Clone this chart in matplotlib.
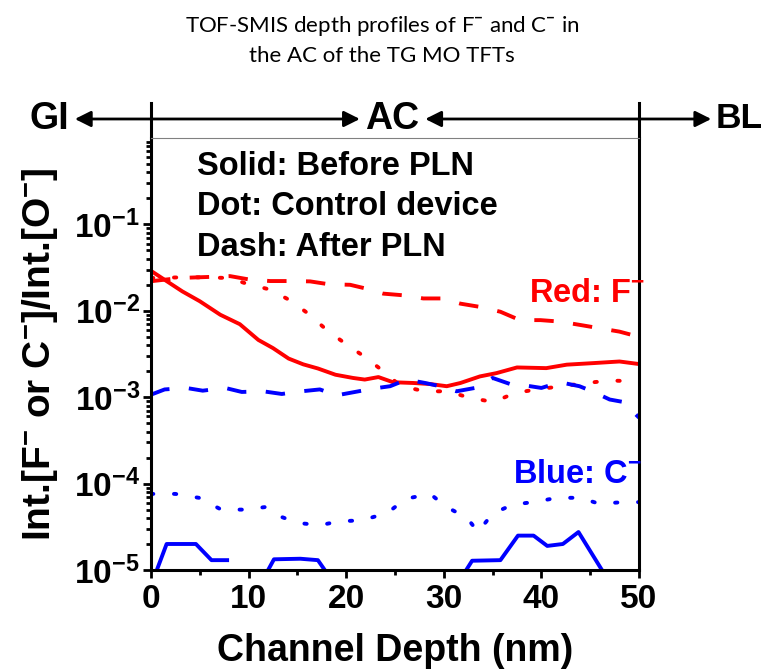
import numpy as np
import matplotlib
matplotlib.use("Agg")
import matplotlib.pyplot as plt
from matplotlib.ticker import FixedLocator, LogLocator, MultipleLocator, FuncFormatter, NullFormatter

plt.rcParams['font.family'] = ['Liberation Sans', 'DejaVu Sans']
plt.rcParams['font.weight'] = 'bold'
plt.rcParams['mathtext.fontset'] = 'custom'
plt.rcParams['mathtext.rm'] = 'Liberation Sans:bold'
plt.rcParams['mathtext.bf'] = 'Liberation Sans:bold'
plt.rcParams['mathtext.it'] = 'Liberation Sans:bold'
plt.rcParams['mathtext.sf'] = 'Lato'
plt.rcParams['mathtext.default'] = 'bf'

RED = '#FF0000'
BLUE = '#0000FF'

# F- / O- ratio, before PLN (solid)
f_before_x = [0, 3.2, 5.0, 7.1, 9.1, 11.0, 12.5, 14.1, 15.6, 17.1, 18.9, 20.7, 21.9, 23.3,
              24.8, 26.9, 28.6, 30.3, 31.7, 33.7, 35.4, 37.5, 40.5, 42.6, 45.3, 48.0, 50.0]
f_before_y = [2.9e-2, 1.68e-2, 1.29e-2, 9.0e-3, 7.0e-3, 4.6e-3, 3.7e-3, 2.8e-3, 2.4e-3,
              2.15e-3, 1.82e-3, 1.67e-3, 1.60e-3, 1.71e-3, 1.49e-3, 1.46e-3, 1.42e-3,
              1.34e-3, 1.46e-3, 1.74e-3, 1.90e-3, 2.21e-3, 2.17e-3, 2.38e-3, 2.48e-3,
              2.59e-3, 2.42e-3]

# F- / O- ratio, after PLN (dash)
f_after_x = [0, 3.0, 5.7, 8.1, 10.0, 12.2, 14.1, 16.3, 18.2, 20.4, 22.1, 23.8, 25.9, 27.9,
             29.9, 31.7, 33.7, 35.8, 37.8, 39.9, 41.9, 44.0, 46.0, 48.0, 50.0]
f_after_y = [2.2e-2, 2.4e-2, 2.46e-2, 2.52e-2, 2.31e-2, 2.21e-2, 2.21e-2, 2.19e-2, 2.03e-2,
             2.0e-2, 1.8e-2, 1.58e-2, 1.51e-2, 1.39e-2, 1.39e-2, 1.21e-2, 1.11e-2, 9.75e-3,
             7.8e-3, 7.8e-3, 7.5e-3, 6.85e-3, 6.27e-3, 5.74e-3, 5.0e-3]

# F- / O- ratio, control device (dot)
f_ctrl_x = [0, 4.0, 8.0, 9.8, 12.2, 14.2, 16.1, 18.0, 20.0, 22.0, 23.6, 25.6, 28.1, 30.4,
            32.7, 35.1, 37.3, 39.7, 42.1, 44.6, 47.0, 49.4, 50.0]
f_ctrl_y = [2.4e-2, 2.45e-2, 2.4e-2, 2.06e-2, 1.76e-2, 1.33e-2, 9.3e-3, 6.0e-3, 4.1e-3,
            2.88e-3, 2.08e-3, 1.34e-3, 1.17e-3, 1.17e-3, 9.8e-4, 8.8e-4, 1.12e-3, 1.24e-3,
            1.34e-3, 1.46e-3, 1.56e-3, 1.53e-3, 1.5e-3]

# C- / O- ratio, before PLN (solid); nan = below detection
c_before_x = [0.6, 1.6, 4.6, 6.2, 7.8, 10.0, 12.0, 12.6, 15.3, 17.1, 17.8, 25.0, 32.3, 32.9,
              35.8, 37.6, 39.2, 40.6, 42.2, 43.8, 46.2]
c_before_y = [1.0e-5, 2.0e-5, 2.0e-5, 1.3e-5, 1.3e-5, np.nan, 1.0e-5, 1.33e-5, 1.35e-5,
              1.3e-5, 1.0e-5, np.nan, 1.0e-5, 1.28e-5, 1.3e-5, 2.5e-5, 2.5e-5, 1.9e-5,
              2.0e-5, 2.75e-5, 1.0e-5]

# C- / O- ratio, after PLN (dash)
c_after_x = [0, 1.4, 3.6, 5.3, 7.6, 9.3, 11.5, 13.4, 15.4, 17.3, 19.0, 20.9, 22.8, 24.5,
             26.2, 28.1, 29.6, 31.3, 33.2, 35.0, 36.8, 38.3, 40.0, 41.9, 43.9, 45.2, 47.0,
             48.4, 50.0]
c_after_y = [1.07e-3, 1.23e-3, 1.28e-3, 1.19e-3, 1.28e-3, 1.15e-3, 1.17e-3, 1.09e-3, 1.17e-3,
             1.23e-3, 1.05e-3, 1.15e-3, 1.26e-3, 1.34e-3, 1.60e-3, 1.46e-3, 1.34e-3, 1.17e-3,
             1.28e-3, 1.67e-3, 1.42e-3, 1.37e-3, 1.28e-3, 1.49e-3, 1.34e-3, 1.17e-3, 9.4e-4,
             8.8e-4, 5.8e-4]

# C- / O- ratio, control device (dot)
c_ctrl_x = [0, 2.5, 4.9, 7.2, 9.6, 11.7, 13.4, 15.1, 17.3, 19.3, 21.6, 24.2, 26.1, 28.6,
            30.3, 32.4, 33.5, 35.0, 37.1, 39.2, 41.6, 44.0, 45.9, 48.4, 50.0]
c_ctrl_y = [7.6e-5, 7.6e-5, 6.85e-5, 5.0e-5, 5.0e-5, 5.35e-5, 4.1e-5, 3.5e-5, 3.3e-5,
            3.66e-5, 3.76e-5, 4.56e-5, 6.67e-5, 7.6e-5, 5.35e-5, 4.0e-5, 2.75e-5, 4.5e-5,
            5.74e-5, 6.1e-5, 6.85e-5, 6.85e-5, 5.85e-5, 6.1e-5, 6.1e-5]

y_major = [1e-5, 1e-4, 1e-3, 1e-2, 1e-1]
x_major = [0, 10, 20, 30, 40, 50]

fig = plt.figure(figsize=(7.64, 6.72), dpi=100)
ax = fig.add_axes([151 / 764, 102 / 672, 488 / 764, 432 / 672])

LW = 2.8
dash = dict(dashes=(5, 5))
dot = dict(dashes=(0.6, 5.3), dash_capstyle='round')

ax.plot(f_after_x, f_after_y, color=RED, lw=LW, **dash)
ax.plot(f_ctrl_x, f_ctrl_y, color=RED, lw=LW, **dot)
ax.plot(f_before_x, f_before_y, color=RED, lw=LW)
ax.plot(c_after_x, c_after_y, color=BLUE, lw=LW, **dash)
ax.plot(c_ctrl_x, c_ctrl_y, color=BLUE, lw=LW, **dot)
ax.plot(c_before_x, c_before_y, color=BLUE, lw=LW)

ax.set_yscale('log')
ax.set_xlim(0, 50)
ax.set_ylim(1e-5, 1)

ax.yaxis.set_major_locator(FixedLocator(y_major))
ax.yaxis.set_minor_locator(LogLocator(base=10, subs=np.arange(2, 10), numticks=20))
ax.yaxis.set_major_formatter(FuncFormatter(lambda v, p: r'$\mathbf{10^{%d}}$' % round(np.log10(v))))
ax.yaxis.set_minor_formatter(NullFormatter())
ax.xaxis.set_major_locator(FixedLocator(x_major))
ax.xaxis.set_minor_locator(MultipleLocator(5))

ax.tick_params(which='both', direction='out', width=2, top=False, right=False)
ax.tick_params(which='major', length=6, labelsize=24)
ax.tick_params(axis='x', which='major', pad=4)
ax.tick_params(axis='y', which='major', pad=2)
ax.tick_params(which='minor', length=3.5)

for side in ['left', 'bottom', 'right']:
    ax.spines[side].set_linewidth(2.2)
ax.spines['top'].set_linewidth(0.8)
ax.spines['top'].set_color('#808080')

ax.set_xlabel('Channel Depth (nm)', fontsize=27, fontweight='bold')
ax.xaxis.set_label_coords(0.5, -0.145)
ax.set_ylabel(r'Int.[F$^{-}$ or C$^{-}$]/Int.[O$^{-}$]', fontsize=28, fontweight='bold')
ax.yaxis.set_label_coords(-0.186, 0.5)

# line-style key and colour key
for txt, yy in [('Solid: Before PLN', 0.914), ('Dot: Control device', 0.822), ('Dash: After PLN', 0.727)]:
    ax.text(4.7, yy, txt, transform=ax.get_xaxis_transform(), fontsize=23.5,
            fontweight='bold', va='baseline', ha='left')
ax.text(38.7, 0.620, r'Red: F$^{-}$', transform=ax.get_xaxis_transform(), fontsize=23.5,
        fontweight='bold', color=RED, va='baseline', ha='left')
ax.text(37.1, 0.201, r'Blue: C$^{-}$', transform=ax.get_xaxis_transform(), fontsize=23.5,
        fontweight='bold', color=BLUE, va='baseline', ha='left')

# layer markers above the plot: GI | AC | BL
tr = ax.get_xaxis_transform()
for xb in [0, 50]:
    ax.plot([xb, xb], [1, 1.081], transform=tr, color='k', lw=2.2, clip_on=False)
arrow_y = 1.044
for tail, head in [(0, -7.8), (0, 21.4), (50, 28.1), (50, 57.4)]:
    ax.annotate('', xy=(head, arrow_y), xytext=(tail, arrow_y), xycoords=tr, textcoords=tr,
                arrowprops=dict(arrowstyle='-|>', lw=2, color='k', mutation_scale=24,
                                shrinkA=0, shrinkB=0), annotation_clip=False)
ax.text(-8.4, arrow_y, 'GI', transform=tr, fontsize=27, fontweight='bold', ha='right', va='center')
ax.text(24.7, arrow_y, 'AC', transform=tr, fontsize=27, fontweight='bold', ha='center', va='center')
ax.text(57.9, arrow_y, 'BL', transform=tr, fontsize=25.5, fontweight='bold', ha='left', va='center')

fig.text(0.5, 1 - 39.5 / 672,
         'TOF-SMIS depth profiles of F$^{\\mathsf{-}}$ and C$^{\\mathsf{-}}$ in\nthe AC of the TG MO TFTs',
         ha='center', va='center', fontsize=16, fontweight='normal', family=['Lato', 'DejaVu Sans'],
         color='#000000', linespacing=1.5)

fig.savefig('out.png', dpi=100)
